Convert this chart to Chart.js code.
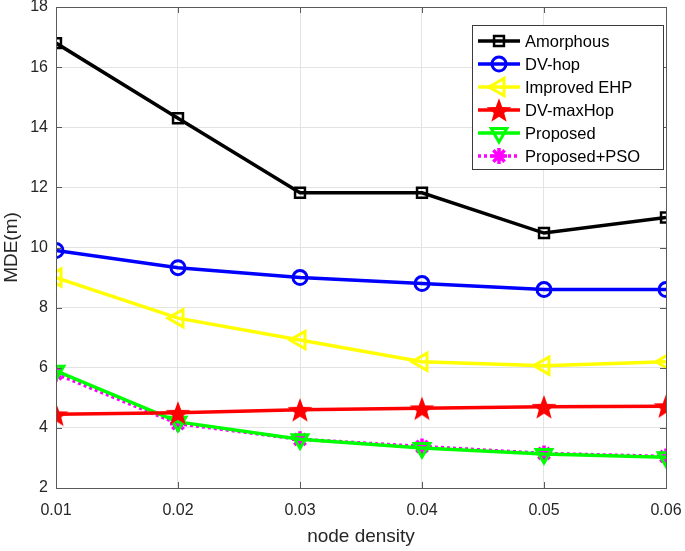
<!DOCTYPE html>
<html lang="en">
<head>
  <meta charset="UTF-8" />
  <title>MDE vs node density</title>
  <script src="https://cdn.jsdelivr.net/npm/chart.js"></script>
  <style>
    html, body { margin: 0; padding: 0; background: #fff; }
    #wrap { width: 685px; height: 551px; }
  </style>
</head>
<body>
  <div id="wrap"><canvas id="chart" width="685" height="551"></canvas></div>
  <script>
    // values
    const density = [0.01, 0.02, 0.03, 0.04, 0.05, 0.06];
    const amorphous = [16.8, 14.3, 11.82, 11.82, 10.48, 11.0];
    const dvHop = [9.9, 9.33, 9.0, 8.8, 8.6, 8.6];
    const improvedEHP = [9.0, 7.65, 6.92, 6.2, 6.07, 6.2];
    const dvMaxHop = [4.45, 4.5, 4.6, 4.65, 4.7, 4.72];
    const proposed = [5.9, 4.2, 3.62, 3.33, 3.13, 3.02];
    const proposedPSO = [5.8, 4.14, 3.62, 3.38, 3.15, 3.05];
    const seriesNames = ["Amorphous", "DV-hop", "Improved EHP", "DV-maxHop", "Proposed", "Proposed+PSO"];

    const FONT = "'Liberation Sans', Arial, sans-serif";

    // filled five point star for DV-maxHop
    function makeStar(r, color) {
      const c = document.createElement("canvas");
      c.width = c.height = r * 2 + 2;
      const g = c.getContext("2d");
      g.fillStyle = color;
      g.beginPath();
      for (let i = 0; i < 10; i++) {
        const rad = i % 2 === 0 ? r : r * 0.42;
        const a = -Math.PI / 2 + i * Math.PI / 5;
        const px = r + 1 + rad * Math.cos(a);
        const py = r + 1 + rad * Math.sin(a) + r * 0.1;
        i === 0 ? g.moveTo(px, py) : g.lineTo(px, py);
      }
      g.closePath();
      g.fill();
      return c;
    }
    const starImg = makeStar(13, "#ff0000");

    function pts(arr) {
      return arr.map((v, i) => ({ x: density[i], y: v }));
    }

    const datasets = [
      { label: seriesNames[0], data: pts(amorphous), borderColor: "#000000", pointStyle: "rect", pointRadius: 7, pointRotation: 0, pointBorderWidth: 2.5 },
      { label: seriesNames[1], data: pts(dvHop), borderColor: "#0000ff", pointStyle: "circle", pointRadius: 7, pointRotation: 0, pointBorderWidth: 3 },
      { label: seriesNames[2], data: pts(improvedEHP), borderColor: "#ffff00", pointStyle: "triangle", pointRadius: 10, pointRotation: -90, pointBorderWidth: 3 },
      { label: seriesNames[3], data: pts(dvMaxHop), borderColor: "#ff0000", pointStyle: starImg, pointRadius: 13, pointRotation: 0, pointBorderWidth: 0 },
      { label: seriesNames[4], data: pts(proposed), borderColor: "#00ff00", pointStyle: "triangle", pointRadius: 9, pointRotation: 180, pointBorderWidth: 3 },
      { label: seriesNames[5], data: pts(proposedPSO), borderColor: "#ff00ff", pointStyle: "star", pointRadius: 8, pointRotation: 0, pointBorderWidth: 3.5, borderDash: [3, 3] }
    ].map(d => Object.assign({
      borderWidth: 3.5,
      pointBackgroundColor: "rgba(0,0,0,0)",
      pointBorderColor: d.borderColor,
      backgroundColor: d.borderColor,
      tension: 0,
      fill: false
    }, d));

    // box, inner ticks and legend drawn on top like the MATLAB figure
    const boxAndLegend = {
      id: "boxAndLegend",
      afterDatasetsDraw(chart) {
        const { ctx, chartArea: a, scales } = chart;
        ctx.save();
        ctx.strokeStyle = "#5a5a5a";
        ctx.lineWidth = 1;
        ctx.strokeRect(a.left + 0.5, a.top + 0.5, a.right - a.left, a.bottom - a.top);
        ctx.beginPath();
        scales.x.ticks.forEach(t => {
          const x = Math.round(scales.x.getPixelForValue(t.value)) + 0.5;
          ctx.moveTo(x, a.bottom); ctx.lineTo(x, a.bottom - 6);
          ctx.moveTo(x, a.top); ctx.lineTo(x, a.top + 6);
        });
        scales.y.ticks.forEach(t => {
          const y = Math.round(scales.y.getPixelForValue(t.value)) + 0.5;
          ctx.moveTo(a.left, y); ctx.lineTo(a.left + 6, y);
          ctx.moveTo(a.right, y); ctx.lineTo(a.right - 6, y);
        });
        ctx.stroke();

        // legend box
        const lx = 472, ly = 25, lw = 191, lh = 144;
        ctx.fillStyle = "#ffffff";
        ctx.fillRect(lx, ly, lw, lh);
        ctx.strokeStyle = "#3a3a3a";
        ctx.strokeRect(lx + 0.5, ly + 0.5, lw, lh);
        ctx.font = "16.5px " + FONT;
        ctx.textBaseline = "middle";
        chart.data.datasets.forEach((d, i) => {
          const y = ly + 16 + i * 23;
          ctx.strokeStyle = d.borderColor;
          ctx.lineWidth = 3.5;
          ctx.setLineDash(d.borderDash || []);
          ctx.beginPath();
          ctx.moveTo(lx + 6, y); ctx.lineTo(lx + 48, y);
          ctx.stroke();
          ctx.setLineDash([]);
          ctx.lineWidth = d.pointBorderWidth;
          ctx.fillStyle = "rgba(0,0,0,0)";
          Chart.helpers.drawPoint(ctx, {
            pointStyle: d.pointStyle,
            radius: d.pointRadius,
            rotation: d.pointRotation,
            borderWidth: d.pointBorderWidth
          }, lx + 27, y);
          ctx.fillStyle = "#000000";
          ctx.fillText(d.label, lx + 53, y + 1);
        });
        ctx.restore();
      }
    };

    new Chart(document.getElementById("chart"), {
      type: "line",
      data: { datasets },
      options: {
        responsive: false,
        animation: false,
        layout: { autoPadding: false, padding: { top: 7, right: 0, left: 0, bottom: 0 } },
        plugins: { legend: { display: false }, tooltip: { enabled: false } },
        scales: {
          x: {
            type: "linear",
            min: 0.01,
            max: 0.06,
            ticks: {
              stepSize: 0.01,
              color: "#262626",
              font: { family: FONT, size: 16 },
              padding: 13,
              callback: v => v.toFixed(2)
            },
            grid: { color: "#e3e3e3", drawTicks: false },
            border: { display: false },
            title: { display: true, text: "node density", color: "#262626", font: { family: FONT, size: 19 }, padding: { top: 2, bottom: 3 } },
            afterFit: s => { s.height = 63; s.paddingRight = 19; }
          },
          y: {
            min: 2,
            max: 18,
            ticks: {
              stepSize: 2,
              color: "#262626",
              font: { family: FONT, size: 16 },
              padding: 8
            },
            grid: { color: "#e3e3e3", drawTicks: false },
            border: { display: false },
            title: { display: true, text: "MDE(m)", color: "#262626", font: { family: FONT, size: 19 }, padding: { top: 0, bottom: 2 } },
            afterFit: s => { s.width = 56; s.paddingTop = 0; s.paddingBottom = 0; }
          }
        }
      },
      plugins: [boxAndLegend]
    });
  </script>
</body>
</html>
